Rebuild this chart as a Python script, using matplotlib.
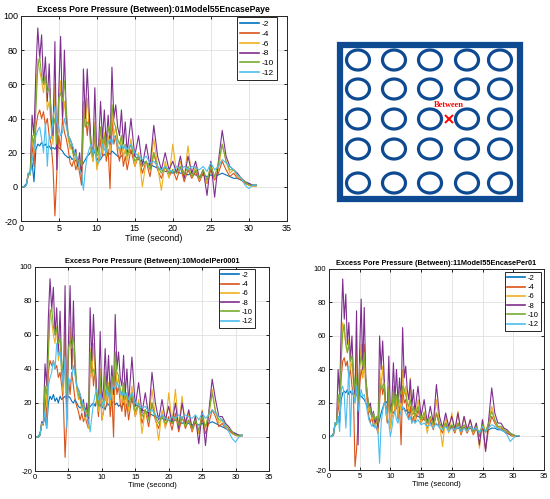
import numpy as np
import matplotlib
matplotlib.use("Agg")
import matplotlib.pyplot as plt
from matplotlib.patches import Rectangle, Ellipse

plt.rcParams['font.family'] = ['Liberation Sans', 'DejaVu Sans']
plt.rcParams['axes.unicode_minus'] = False

# time axis (s): 0.25 s steps up to 13.75, then 0.5 s steps to 31
t = np.concatenate([np.arange(0, 14, 0.25), np.arange(14, 31.01, 0.5)])

depths = ['-2', '-4', '-6', '-8', '-10', '-12']
colors = ['#0072BD', '#D95319', '#EDB120', '#7E2F8E', '#77AC30', '#4DBEEE']

# ---- 01Model55EncasePaye ----
p1_d2 = [0, 0, 0.5, 2, 7, 8, 14, 3, 22, 25, 24, 26, 24, 25, 23, 24, 22, 23, 22, 24, 23, 22, 21, 19, 18, 17, 18, 16,
         17, 15, 14, 13, 12, 14, 16, 18, 19, 21, 22, 20, 17, 15, 16, 18, 19, 18, 20, 19, 21, 20, 19, 18, 17, 18, 19, 20,
         21, 20, 18, 16, 15, 14, 13, 12, 11, 10, 9, 9, 8, 9, 8, 8, 7, 8, 7, 6, 7, 6, 7, 6, 7, 8, 7, 6, 5, 5, 4, 3, 2, 1, 1]
p1_d4 = [0, 0, 0, 1, 7, 8, 25, 12, 35, 42, 45, 40, 44, 36, 40, 30, 25, 12, -17, 8, 30, 22, 40, 32, 28, 22, 14, 12,
         16, 10, 14, 8, 1, 35, 45, 30, 42, 25, 15, 32, 12, 15, 28, 18, 30, 15, 22, -1, 40, 25, 30, 20, 15, 25, 12, 18,
         10, 22, 12, 18, 8, 15, 6, 20, 10, 5, 12, 6, 10, 4, 12, 3, 10, 5, 9, 3, 8, 2, 10, 4, 8, 15, 10, 6, 8, 5, 4, 2, 1, 0.5, 0.5]
p1_d6 = [0, 0, 0, 1, 7, 7, 30, 20, 55, 75, 68, 62, 55, 65, 45, 50, 35, 25, 60, 15, 45, 62, 40, 50, 38, 28, 22, 25,
         15, 18, 10, 15, 5, 50, 35, 52, 38, 20, 15, 38, 10, 15, 35, 20, 32, 18, 30, 20, 48, 30, 35, 25, 20, 30, 18, 22,
         15, 28, 12, 20, 0, 15, 10, 28, 12, -2, 15, 5, 25, 8, 15, 5, 24, 6, 12, 4, 10, 2, 14, 5, 10, 25, 15, 8, 10, 6, 5, 3, 1, 0.5, 0.5]
p1_d8 = [0, 0, 0, 1, 8, 8, 42, 30, 68, 93, 75, 89, 60, 76, 50, 72, 40, 30, 85, 10, 55, 88, 40, 80, 40, 30, 28, 25,
         18, 22, 12, 20, 5, 69, 40, 69, 45, 25, 20, 58, 20, 25, 50, 28, 45, 25, 42, 25, 70, 40, 48, 35, 30, 45, 25, 38,
         20, 40, 18, 30, 12, 25, 12, 36, 18, 10, 20, 10, 15, 8, 18, 5, 18, 8, 15, 5, 10, -5, 15, -6, 15, 33, 18, 12, 10, 8, 5, 3, 2, 1, 1]
p1_d10 = [0, 0, 0, 1, 8, 7, 30, 25, 45, 70, 76, 65, 60, 65, 55, 58, 45, 35, 40, 25, 52, 55, 50, 62, 45, 30, 25, 22,
          18, 20, 15, 16, 12, 43, 35, 38, 36, 22, 18, 35, 18, 20, 35, 25, 30, 22, 35, 30, 48, 38, 35, 28, 25, 30, 22, 25,
          18, 25, 15, 18, 12, 15, 10, 20, 12, 8, 12, 8, 10, 8, 12, 7, 12, 6, 10, 5, 10, 4, 12, 6, 14, 25, 15, 10, 10, 7, 5, 3, 1, 1, 1]
p1_d12 = [0, 0, 0, 1, 8, 8, 15, 22, 30, 33, 35, 28, 20, 38, 12, 30, 28, 40, 47, 38, 35, 30, 32, 40, 35, 30, 28, 25,
          22, 18, 15, 10, 8, -2, 10, 18, 22, 25, 20, 22, 15, 14, 18, 25, 22, 20, 26, 28, 25, 30, 28, 24, 22, 25, 22, 24,
          22, 25, 20, 18, 16, 18, 14, 15, 12, 10, 12, 10, 9, 12, 10, 12, 10, 12, 11, 10, 12, 9, 14, 10, 12, 16, 14, 12, 10, 7, 5, 1, -1, 1, 1]

# ---- 10ModelPer0001 ----
p2_d2 = [0, 0, 0.5, 2, 7, 8, 12, 5, 20, 24, 22, 25, 21, 23, 20, 24, 22, 23, 24, 22, 24, 23, 21, 20, 22, 20, 18, 17,
         18, 16, 17, 15, 16, 18, 19, 20, 18, 22, 20, 19, 17, 18, 16, 20, 19, 18, 20, 21, 19, 20, 18, 19, 17, 20, 18, 19,
         20, 21, 19, 18, 16, 15, 14, 13, 12, 11, 11, 10, 10, 9, 10, 9, 8, 9, 8, 7, 8, 7, 8, 7, 8, 9, 8, 7, 6, 5, 4, 3, 2, 1, 1]
p2_d4 = [0, 0, 0, 1, 8, 8, 25, 10, 38, 45, 42, 45, 40, 42, 35, 38, 30, 20, -12, 10, 35, 25, 38, 30, 22, 18, 15, 10,
         14, 9, 12, 8, 5, 40, 48, 30, 40, 22, 12, 30, 10, 15, 28, 18, 30, 12, 25, 0, 42, 25, 30, 20, 15, 28, 12, 20,
         10, 24, 12, 20, 8, 16, 6, 20, 10, 5, 14, 6, 12, 4, 14, 3, 12, 5, 10, 3, 9, 2, 11, 2, 8, 16, 12, 6, 8, 5, 4, 2, 1, 0.5, 0.5]
p2_d6 = [0, 0, 0, 1, 7, 7, 30, 18, 55, 75, 68, 60, 55, 65, 45, 52, 35, 25, 62, 15, 45, 65, 40, 52, 38, 28, 22, 25,
         15, 18, 10, 15, 5, 52, 35, 55, 38, 20, 15, 40, 10, 15, 38, 20, 32, 18, 30, 20, 50, 30, 35, 25, 20, 32, 18, 24,
         15, 30, 12, 22, 2, 16, 10, 28, 12, -2, 16, 5, 26, 8, 28, 5, 24, 6, 14, 4, 12, 2, 16, 5, 12, 28, 15, 8, 10, 6, 5, 3, 1, 0.5, 0.5]
p2_d8 = [0, 0, 0, 1, 9, 8, 43, 30, 70, 93, 75, 88, 60, 76, 50, 74, 40, 30, 89, 10, 55, 89, 40, 80, 40, 30, 28, 25,
         18, 22, 12, 20, 8, 76, 45, 72, 45, 25, 22, 62, 22, 28, 52, 28, 48, 25, 42, 25, 72, 40, 50, 35, 30, 48, 25, 40,
         20, 47, 18, 32, 14, 26, 12, 38, 20, 10, 22, 10, 18, 8, 20, 5, 20, 8, 16, 5, 12, -4, 15, -5, 15, 34, 22, 12, 12, 8, 6, 3, 2, 1, 1]
p2_d10 = [0, 0, 0, 1, 8, 7, 30, 25, 48, 72, 76, 65, 60, 64, 55, 58, 45, 35, 42, 25, 52, 57, 52, 60, 45, 30, 25, 22,
          18, 20, 15, 16, 12, 50, 38, 40, 36, 22, 18, 36, 18, 22, 36, 25, 30, 22, 36, 30, 50, 38, 36, 28, 25, 32, 22, 26,
          18, 26, 15, 20, 12, 16, 10, 20, 12, 8, 12, 8, 10, 8, 12, 7, 12, 6, 10, 5, 10, 4, 12, 6, 14, 26, 15, 10, 10, 7, 5, 3, 1, 1, 1]
p2_d12 = [0, 0, 0, 1, 8, 8, 15, 5, 30, 35, 38, 45, 40, 55, 48, 50, 40, 30, 47, 5, 35, 32, 35, 42, 36, 30, 28, 25,
          22, 18, 15, 12, 10, 3, 12, 20, 25, 28, 22, 25, 20, 18, 22, 28, 25, 22, 28, 30, 28, 32, 30, 26, 24, 27, 24, 26,
          22, 26, 20, 19, 17, 18, 15, 16, 13, 11, 13, 11, 10, 12, 11, 13, 11, 13, 12, 11, 13, 10, 14, 11, 13, 16, 14, 12, 10, 6, 3, -1, -3, 0, 1]

# ---- 11Model55EncasePer01 ----
p3_d2 = [0, 0, 0.5, 2, 7, 8, 12, 8, 22, 26, 27, 26, 28, 25, 27, 25, 26, 24, 25, 23, 25, 24, 23, 22, 20, 18, 16, 14,
         12, 10, 9, 8, 7, 10, 14, 17, 20, 21, 20, 19, 17, 15, 14, 16, 17, 18, 17, 18, 16, 17, 15, 16, 14, 15, 13, 14,
         13, 12, 11, 10, 9, 8, 8, 7, 7, 6, 6, 5, 6, 5, 5, 4, 5, 4, 5, 4, 4, 3, 4, 3, 4, 5, 5, 4, 4, 3, 2, 1, 0, 0, 0.5]
p3_d4 = [0, 0, 0, 1, 8, 8, 20, 12, 35, 45, 47, 42, 45, 35, 40, 30, 25, -18, -8, 8, 30, 40, 35, 55, 30, 20, 12, 8,
         12, 6, 8, 5, 2, 20, 35, 25, 30, 15, 8, 25, 5, 12, 25, 15, 22, 10, 18, -5, 30, 20, 22, 15, 10, 18, 8, 12,
         8, 16, 8, 12, 5, 10, 4, 14, 6, 2, 8, 3, 6, 2, 8, 1, 6, 2, 6, 1, 5, 0, 6, -8, 5, 12, 8, 5, 5, 3, 2, 1, 0, 0, 0.5]
p3_d6 = [0, 0, 0, 1, 7, 7, 25, 15, 50, 68, 62, 55, 50, 58, 40, 45, 30, 20, 50, 10, 40, 55, 35, 45, 30, 22, 15, 18,
         10, 12, 6, 10, 2, 40, 28, 42, 30, 15, 10, 30, 5, 12, 30, 15, 25, 12, 22, 15, 40, 25, 30, 20, 15, 35, 12, 18,
         10, 22, 8, 15, 2, 12, 6, 22, 8, -6, 12, 2, 14, 3, 15, 2, 12, 3, 10, 2, 8, -7, 10, 2, 8, 18, 10, 5, 6, 4, 3, 2, 0, 0, 0.5]
p3_d8 = [0, 0, 0, 1, 8, 8, 40, 25, 65, 94, 70, 85, 55, 68, 45, 60, 35, 25, 75, -5, 50, 82, 40, 77, 35, 25, 18, 20,
         12, 15, 8, 12, 5, 60, 40, 57, 35, 18, 15, 48, 15, 20, 44, 22, 40, 20, 35, 20, 65, 35, 42, 28, 22, 34, 18, 28,
         15, 30, 12, 22, 8, 18, 8, 31, 12, 5, 14, 6, 12, 4, 14, 3, 12, 4, 10, 3, 8, -5, 10, -9, 10, 29, 14, 8, 8, 5, 4, 2, 1, 0, 0.5]
p3_d10 = [0, 0, 0, 1, 8, 7, 25, 20, 45, 62, 67, 55, 50, 55, 45, 48, 38, 28, 35, 20, 42, 48, 42, 50, 35, 25, 18, 16,
          12, 14, 10, 12, 8, 32, 28, 30, 32, 18, 14, 28, 14, 16, 28, 18, 25, 18, 28, 25, 30, 28, 25, 20, 18, 22, 15, 18,
          12, 18, 10, 14, 8, 12, 7, 14, 8, 5, 8, 5, 7, 4, 8, 4, 7, 4, 6, 3, 6, 2, 7, 3, 8, 15, 10, 6, 6, 4, 3, 2, 1, 0.5, 0.5]
p3_d12 = [0, 0, 0, 1, 8, 8, 12, 3, 28, 30, 25, 5, 22, 42, 0, 28, 25, 20, 30, 15, 22, 28, 24, 25, 20, 15, 10, 8,
          6, 8, 5, 6, 2, -16, 8, 15, 20, 18, 12, 8, 0, 5, 12, 15, 10, 8, 12, 15, 18, 16, 14, 12, 10, 12, 8, 10,
          8, 10, 7, 8, 6, 7, 5, 8, 5, 4, 6, 3, 5, 4, 6, 3, 5, 3, 6, 4, 5, 2, 6, 3, 5, 7, 6, 5, 4, 3, 1, -3, -1, 0.5, 0.5]

titles = ["Excess Pore Pressure (Between):01Model55EncasePaye",
          "Excess Pore Pressure (Between):10ModelPer0001",
          "Excess Pore Pressure (Between):11Model55EncasePer01"]
series = [[p1_d2, p1_d4, p1_d6, p1_d8, p1_d10, p1_d12],
          [p2_d2, p2_d4, p2_d6, p2_d8, p2_d10, p2_d12],
          [p3_d2, p3_d4, p3_d6, p3_d8, p3_d10, p3_d12]]

# diagram: pile grid
pile_cols = [358, 394, 430, 467, 500]
pile_rows = [60, 89, 119, 149, 183]
blue_dark = '#0d4a92'

fig = plt.figure(figsize=(5.5, 4.99), dpi=100)

boxes = [[0.0376, 0.557, 0.484, 0.411],
         [0.0636, 0.0561, 0.4255, 0.409],
         [0.598, 0.0581, 0.391, 0.403]]
tick_fs = [6.5, 5.5, 5.5]
title_fs = [6.2, 5.3, 5.3]
leg_fs = [6, 5.5, 5.5]
leg_anchor = [(0.962, 0.995), (0.94, 0.99), (0.986, 0.985)]

for k in range(3):
    ax = fig.add_axes(boxes[k])
    for vals, lab, c in zip(series[k], depths, colors):
        ax.plot(t, vals, color=c, lw=0.8, label=lab)
    ax.set_xlim(0, 35)
    ax.set_ylim(-20, 100)
    ax.set_xticks(range(0, 36, 5))
    ax.set_yticks(range(-20, 101, 20))
    ax.grid(True, color='#e0e0e0', lw=0.6)
    ax.set_axisbelow(True)
    ax.tick_params(direction='in', top=True, right=True, length=2.5, width=0.6,
                   labelsize=tick_fs[k], pad=2)
    for s in ax.spines.values():
        s.set_linewidth(0.7)
        s.set_color('#262626')
    ax.set_title(titles[k], fontsize=title_fs[k], fontweight='bold', pad=3)
    ax.set_xlabel("Time (second)", fontsize=tick_fs[k], labelpad=1)
    leg = ax.legend(loc='upper right', bbox_to_anchor=leg_anchor[k], fontsize=leg_fs[k],
                    handlelength=2.3, labelspacing=0.25, borderpad=0.35, handletextpad=0.3,
                    fancybox=False, framealpha=1, borderaxespad=0)
    leg.get_frame().set_edgecolor('#262626')
    leg.get_frame().set_linewidth(0.7)
    for ln in leg.get_lines():
        ln.set_linewidth(1.2)

# schematic of the pile group
axd = fig.add_axes([330 / 550, 1 - 210 / 499, 200 / 550, 175 / 499])
axd.set_xlim(330, 530)
axd.set_ylim(210, 35)
axd.axis('off')
axd.add_patch(Rectangle((340, 45), 180, 154, fill=False, ec=blue_dark, lw=4.5))
for cx in pile_cols:
    for cy in pile_rows:
        axd.add_patch(Ellipse((cx, cy), 23, 20, fill=False, ec=blue_dark, lw=2.3))
axd.plot([449], [119], marker='x', color='red', ms=6, mew=1.4)
axd.text(449, 105, "Between", color='red', fontsize=6, fontweight='bold',
         family='Liberation Serif', ha='center', va='center')

fig.savefig("out.png", dpi=100)
